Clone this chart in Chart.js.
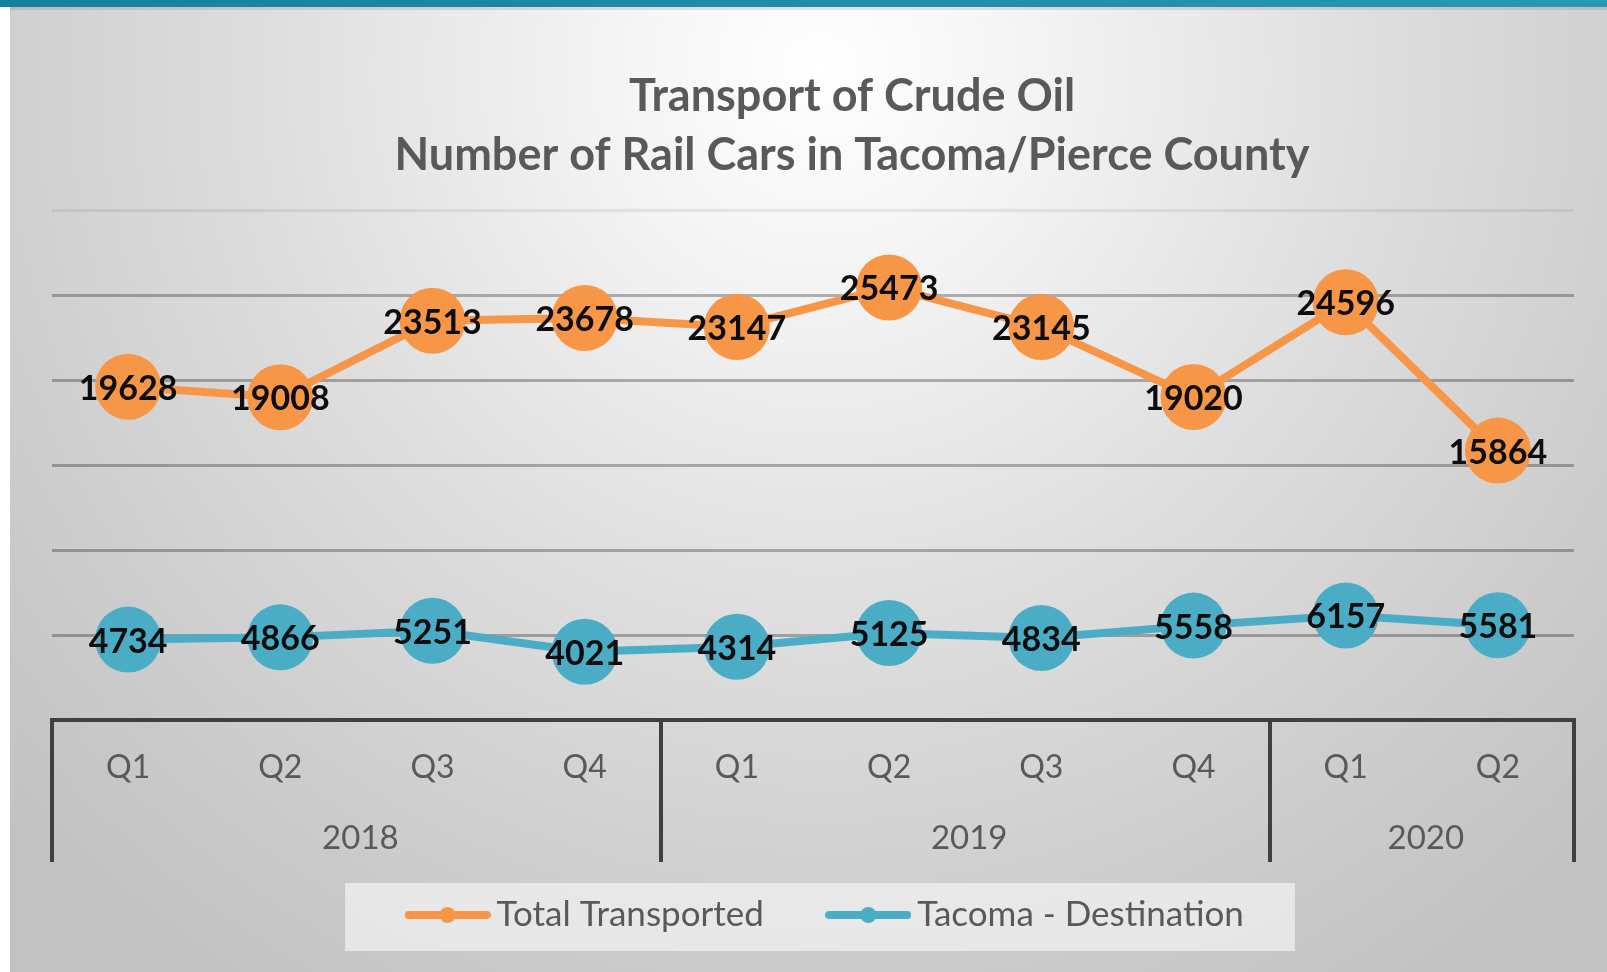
<!DOCTYPE html>
<html>
<head>
<meta charset="utf-8">
<title>Transport of Crude Oil</title>
<script src="https://cdn.jsdelivr.net/npm/chart.js@4.4.1/dist/chart.umd.min.js"></script>
<style>
  html, body { margin: 0; padding: 0; background: #fff; }
  canvas { display: block; }
</style>
</head>
<body>
<canvas id="chart" width="1607" height="972"></canvas>
<script>
const quarters = ['Q1', 'Q2', 'Q3', 'Q4', 'Q1', 'Q2', 'Q3', 'Q4', 'Q1', 'Q2'];
const years = ['2018', '2018', '2018', '2018', '2019', '2019', '2019', '2019', '2020', '2020'];
const totalTransported = [19628, 19008, 23513, 23678, 23147, 25473, 23145, 19020, 24596, 15864];
const tacomaDestination = [4734, 4866, 5251, 4021, 4314, 5125, 4834, 5558, 6157, 5581];
const yTicks = [0, 5000, 10000, 15000, 20000, 25000, 30000];

const orange = '#f79646';
const blue = '#4bacc6';
const textGray = '#595959';
const axisDark = '#404040';

// legend marker: thick line with a dot in the middle
function legendMarker(color) {
  const c = document.createElement('canvas');
  c.width = 86;
  c.height = 18;
  const g = c.getContext('2d');
  g.strokeStyle = color;
  g.lineWidth = 8;
  g.lineCap = 'round';
  g.beginPath();
  g.moveTo(4, 9);
  g.lineTo(82, 9);
  g.stroke();
  g.fillStyle = color;
  g.beginPath();
  g.arc(43, 9, 8, 0, Math.PI * 2);
  g.fill();
  return c;
}
const markers = [legendMarker(orange), legendMarker(blue)];

const backdrop = {
  id: 'backdrop',
  beforeDraw(chart) {
    const { ctx, width, height } = chart;
    ctx.save();
    ctx.fillStyle = '#ffffff';
    ctx.fillRect(0, 0, width, height);
    const g = ctx.createRadialGradient(820, 70, 0, 820, 70, 1100);
    g.addColorStop(0, '#ffffff');
    g.addColorStop(0.2, '#f3f3f3');
    g.addColorStop(0.5, '#dedede');
    g.addColorStop(0.8, '#cccccc');
    g.addColorStop(1, '#c2c2c2');
    ctx.fillStyle = g;
    ctx.fillRect(10, 7, width - 10, height - 7);
    const t = ctx.createLinearGradient(0, 0, width, 0);
    t.addColorStop(0, '#197fa1');
    t.addColorStop(1, '#2798b3');
    ctx.fillStyle = t;
    ctx.fillRect(0, 0, width, 7);
    ctx.fillStyle = 'rgba(0,0,0,0.10)';
    ctx.fillRect(10, 7, width - 10, 3);

    // legend panel
    const hb = chart.legend && chart.legend.legendHitBoxes;
    if (hb && hb.length) {
      const first = hb[0];
      const last = hb[hb.length - 1];
      const cy = first.top + first.height / 2;
      ctx.fillStyle = 'rgba(240,240,240,0.75)';
      ctx.fillRect(first.left - 71, cy - 32, last.left + last.width + 51 - (first.left - 71), 68);
    }
    ctx.restore();
  }
};

// nudge title and legend to the right, as in the original slide
const boxShift = {
  id: 'boxShift',
  afterLayout(chart) {
    if (chart.titleBlock) {
      chart.titleBlock.left += 35;
      chart.titleBlock.right += 35;
    }
    if (chart.legend) {
      chart.legend.left += 13;
      chart.legend.right += 13;
    }
  }
};

const valueLabels = {
  id: 'valueLabels',
  afterDatasetsDraw(chart) {
    const { ctx } = chart;
    ctx.save();
    ctx.font = 'bold 34px Lato';
    ctx.fillStyle = '#0d0d0d';
    ctx.textAlign = 'center';
    ctx.textBaseline = 'middle';
    chart.data.datasets.forEach((ds, i) => {
      chart.getDatasetMeta(i).data.forEach((pt, j) => {
        ctx.fillText(String(ds.data[j]), pt.x, pt.y + 2);
      });
    });
    ctx.restore();
  }
};

// second row of the category axis: years with group separators
const yearAxis = {
  id: 'yearAxis',
  afterDraw(chart) {
    const { ctx } = chart;
    const x = chart.scales.x;
    const top = chart.chartArea.bottom;
    const groups = [];
    years.forEach((y, i) => {
      const g = groups[groups.length - 1];
      if (g && g.year === y) g.end = i;
      else groups.push({ year: y, start: i, end: i });
    });
    ctx.save();
    ctx.strokeStyle = axisDark;
    ctx.lineWidth = 4;
    ctx.lineCap = 'butt';
    const edges = [groups[0].start - 0.5].concat(groups.map(g => g.end + 0.5));
    edges.forEach(v => {
      const px = Math.round(x.getPixelForValue(v));
      ctx.beginPath();
      ctx.moveTo(px, top - 2);
      ctx.lineTo(px, top + 142);
      ctx.stroke();
    });
    ctx.font = '33px Lato';
    ctx.fillStyle = textGray;
    ctx.textAlign = 'center';
    ctx.textBaseline = 'middle';
    groups.forEach(g => {
      const cx = (x.getPixelForValue(g.start) + x.getPixelForValue(g.end)) / 2;
      ctx.fillText(g.year, cx + 4, top + 118);
    });
    ctx.restore();
  }
};

function build() {
  const ctx = document.getElementById('chart').getContext('2d');
  new Chart(ctx, {
    type: 'line',
    data: {
      labels: quarters,
      datasets: [{
        label: 'Total Transported',
        data: totalTransported,
        borderColor: orange,
        backgroundColor: orange,
        pointBackgroundColor: orange,
        pointBorderWidth: 0,
        pointRadius: 33,
        borderWidth: 8,
        tension: 0
      }, {
        label: 'Tacoma - Destination',
        data: tacomaDestination,
        borderColor: blue,
        backgroundColor: blue,
        pointBackgroundColor: blue,
        pointBorderWidth: 0,
        pointRadius: 33,
        borderWidth: 8,
        tension: 0
      }]
    },
    options: {
      responsive: false,
      devicePixelRatio: 1,
      animation: false,
      events: [],
      clip: false,
      layout: { padding: { left: 52, right: 25, top: 0, bottom: 29.5 } },
      scales: {
        x: {
          offset: true,
          grid: { display: false, drawTicks: false },
          border: { display: true, color: axisDark, width: 4 },
          ticks: {
            color: textGray,
            font: { family: 'Lato', size: 32 },
            padding: 28,
            maxRotation: 0,
            autoSkip: false
          },
          afterFit(scale) { scale.height = 104.5; }
        },
        y: {
          min: 0,
          max: 30000,
          afterBuildTicks(scale) { scale.ticks = yTicks.map(v => ({ value: v })); },
          ticks: { display: false },
          border: { display: false },
          grid: {
            drawTicks: false,
            color: c => c.tick.value === 0 ? 'rgba(0,0,0,0)' : (c.tick.value === 30000 ? 'rgba(0,0,0,0.07)' : 'rgba(0,0,0,0.28)'),
            lineWidth: 3
          }
        }
      },
      plugins: {
        title: {
          display: true,
          text: ['Transport of Crude Oil', 'Number of Rail Cars in Tacoma/Pierce County'],
          color: textGray,
          font: { family: 'Lato', size: 45, weight: 'bold', lineHeight: 1.322 },
          padding: { top: 66.25, bottom: 25.35 }
        },
        legend: {
          position: 'bottom',
          labels: {
            usePointStyle: true,
            pointStyleWidth: 63,
            color: textGray,
            font: { family: 'Lato', size: 35 },
            padding: 73,
            generateLabels(chart) {
              const items = Chart.defaults.plugins.legend.labels.generateLabels(chart);
              items.forEach((it, i) => { it.pointStyle = markers[i]; });
              return items;
            }
          }
        },
        tooltip: { enabled: false }
      }
    },
    plugins: [backdrop, boxShift, valueLabels, yearAxis]
  });
}

if (document.fonts && document.fonts.load) {
  Promise.all([
    document.fonts.load('bold 45px Lato'),
    document.fonts.load('32px Lato')
  ]).then(build, build);
} else {
  build();
}
</script>
</body>
</html>
